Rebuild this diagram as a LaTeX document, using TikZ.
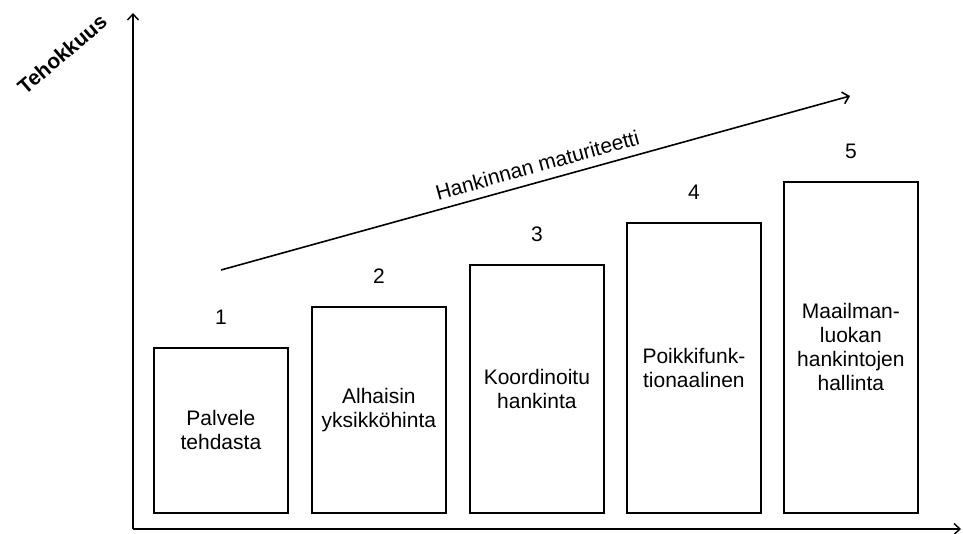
\documentclass[tikz,border=0pt]{standalone}
\usepackage{fontspec}
\setmainfont{Liberation Sans}
\usetikzlibrary{arrows.meta}
\begin{document}
\begin{tikzpicture}[x=1pt,y=-1pt,
  stage/.style={draw,line width=1.8pt,anchor=north west,inner sep=0pt,
    minimum width=134pt,align=center,font=\fontsize{21}{24}\selectfont},
  num/.style={font=\fontsize{21}{24}\selectfont},
  axis/.style={line width=1.4pt,-{Straight Barb[length=6pt,width=11pt,line width=1.4pt]}},
  trend/.style={line width=1.6pt,-{Straight Barb[length=6pt,width=12pt,line width=1.6pt]}}]
\useasboundingbox (0,0) rectangle (963,533);
% axes
\coordinate (o) at (133,529);
\coordinate (ytop) at (133,13);
\coordinate (xend) at (961,529);
\draw[axis] (o) -- (ytop);
\draw[axis] (o) -- (xend);
\node[rotate=40.5,font=\bfseries\fontsize{21}{24}\selectfont] (ylab) at (62,54) {Tehokkuus};
% stages
\node[stage,minimum height=165pt] (s1) at (153,347) {Palvele\\tehdasta};
\node[stage,minimum height=206pt] (s2) at (311,306) {Alhaisin\\yksikköhinta};
\node[stage,minimum height=248pt] (s3) at (469,264) {Koordinoitu\\hankinta};
\node[stage,minimum height=290pt] (s4) at (626,222) {Poikkifunk-\\tionaalinen};
\node[stage,minimum height=331pt] (s5) at (783,181) {Maailman-\\luokan\\hankintojen\\hallinta};
% stage numbers
\node[num] (l1) at ([yshift=30pt]s1.north) {1};
\node[num] (l2) at ([yshift=30pt]s2.north) {2};
\node[num] (l3) at ([yshift=30pt]s3.north) {3};
\node[num] (l4) at ([yshift=30pt]s4.north) {4};
\node[num] (l5) at ([yshift=30pt]s5.north) {5};
% maturity arrow
\coordinate (m0) at (221,270);
\coordinate (m1) at (850,96);
\draw[trend] (m0) -- (m1) node[pos=0.51,sloped,above=5pt,num] (mlab) {Hankinnan maturiteetti};
\end{tikzpicture}
\end{document}
